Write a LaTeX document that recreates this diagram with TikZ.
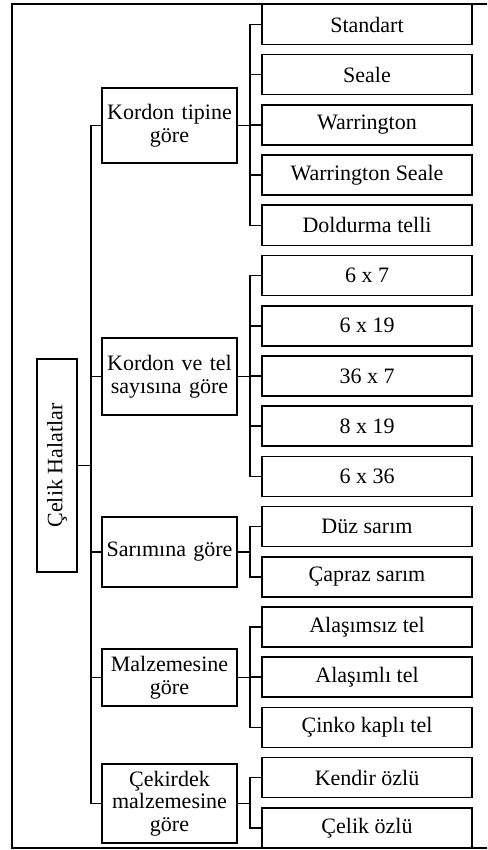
\documentclass[tikz,border=0pt]{standalone}
\usepackage{fontspec}
\setmainfont{Liberation Serif}
\begin{document}
\begin{tikzpicture}[x=1pt,y=-1pt,
  every node/.style={font=\fontsize{22}{22.5}\selectfont},
  box/.style={draw, line width=1.6pt, inner sep=0pt, align=center},
  leaf/.style={box, minimum width=210pt, minimum height=40pt},
  mid/.style={box, minimum width=135pt, text width=131pt},
  link/.style={line width=1.6pt},
  frame/.style={line width=1.9pt}]
\useasboundingbox (0,0) rectangle (487,850);
\clip (0,0) rectangle (487,850);
% outer frame (open on the right)
\draw[frame] (495,4) -- (12,4) -- (12,848) -- (495,848);
% leaves
\foreach \n/\t [count=\i from 0] in {std/Standart, sea/Seale, war/Warrington, ws/Warrington Seale, dol/Doldurma telli,
  a/6 x 7, b/6 x 19, c/36 x 7, d/8 x 19, e/6 x 36,
  duz/Düz sarım, cap/Çapraz sarım,
  ala/Alaşımsız tel, alm/Alaşımlı tel, cin/Çinko kaplı tel,
  ken/Kendir özlü, cel/Çelik özlü}
  \node[leaf] (\n) at (367,24.5+50.2*\i) {\t};
% middle boxes
\node[mid, minimum height=75pt] (k1) at (169.5,125.5) {Kordon tipine\\göre};
\node[mid, minimum height=77pt] (k2) at (169.5,376.5) {Kordon ve tel\\sayısına göre};
\node[mid, minimum height=70pt] (sar) at (169.5,552) {Sarımına göre};
\node[mid, minimum height=57pt] (mal) at (169.5,677.5) {Malzemesine\\göre};
\node[mid, minimum height=79pt] (cek) at (169.5,803.5) {Çekirdek\\malzemesine\\göre};
% root
\node[box, rotate=90, minimum width=213pt, minimum height=40pt] (root) at (57,465.5) {Çelik Halatlar};
% connectors
\foreach \m in {k1,k2,sar,mal,cek}
  \draw[link] (root.south) -- ++(13pt,0) |- (\m.west);
\foreach \l in {std,sea,war,ws,dol}
  \draw[link] (k1.east) -- ++(12pt,0) |- (\l.west);
\foreach \l in {a,b,c,d,e}
  \draw[link] (k2.east) -- ++(12pt,0) |- (\l.west);
\foreach \l in {duz,cap}
  \draw[link] (sar.east) -- ++(12pt,0) |- (\l.west);
\foreach \l in {ala,alm,cin}
  \draw[link] (mal.east) -- ++(12pt,0) |- (\l.west);
\foreach \l in {ken,cel}
  \draw[link] (cek.east) -- ++(12pt,0) |- (\l.west);
\end{tikzpicture}
\end{document}
